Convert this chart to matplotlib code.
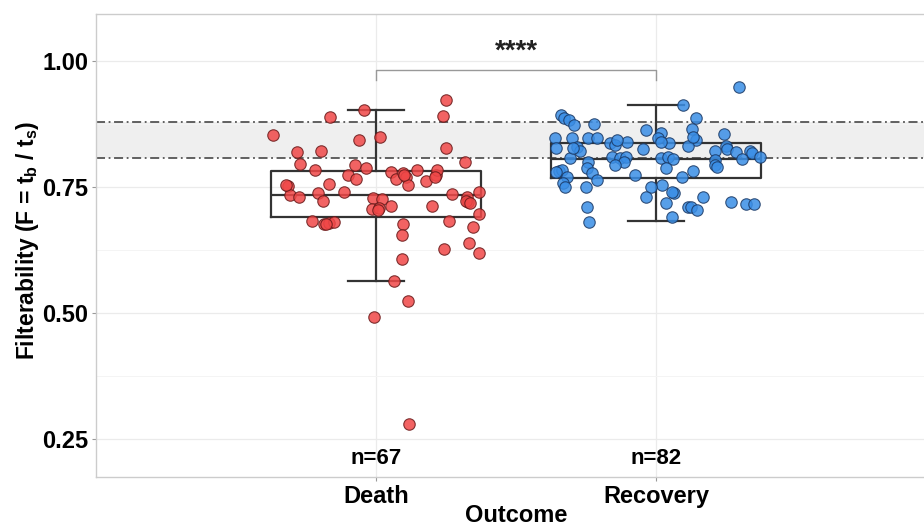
import numpy as np
import matplotlib
matplotlib.use("Agg")
import matplotlib.pyplot as plt

plt.rcParams['font.family'] = ['Liberation Sans', 'DejaVu Sans']
plt.rcParams['mathtext.fontset'] = 'custom'
plt.rcParams['mathtext.rm'] = 'Liberation Sans'
plt.rcParams['mathtext.bf'] = 'Liberation Sans:bold'

# categories
groups = ['Death', 'Recovery']
counts = ['n=67', 'n=82']

# Death: filterability values and jitter offsets
death_y = [0.923, 0.891, 0.903, 0.888, 0.853, 0.850, 0.843, 0.827, 0.820, 0.822,
           0.796, 0.800, 0.794, 0.787, 0.784, 0.774, 0.766, 0.780, 0.766, 0.777,
           0.769, 0.754, 0.784, 0.761, 0.774, 0.784, 0.752, 0.734, 0.731, 0.756,
           0.738, 0.723, 0.741, 0.728, 0.726, 0.706, 0.708, 0.712, 0.712, 0.736,
           0.731, 0.721, 0.741, 0.696, 0.683, 0.676, 0.678, 0.681, 0.683, 0.677,
           0.671, 0.655, 0.628, 0.638, 0.620, 0.607, 0.563, 0.524, 0.493, 0.281,
           0.754, 0.774, 0.723, 0.704, 0.677, 0.770, 0.719]
death_jit = [0.250, 0.238, -0.042, -0.164, -0.369, 0.014, -0.062, 0.250, -0.283, -0.196,
             -0.271, 0.318, -0.075, -0.037, -0.217, -0.101, -0.071, 0.054, 0.071, 0.098,
             0.106, 0.115, 0.148, 0.179, 0.213, 0.217, -0.313, -0.307, -0.274, -0.167,
             -0.208, -0.190, -0.114, -0.012, 0.020, -0.013, 0.012, 0.054, 0.199, 0.273,
             0.324, 0.330, 0.369, 0.367, -0.229, -0.186, -0.167, -0.149, 0.260, 0.095,
             0.348, 0.092, 0.244, 0.333, 0.369, 0.092, 0.064, 0.115, -0.006, 0.119,
             -0.321, 0.101, 0.321, 0.006, -0.179, 0.211, 0.336]

# Recovery
recov_y = [0.949, 0.913, 0.893, 0.886, 0.883, 0.873, 0.875, 0.886, 0.864, 0.863,
           0.857, 0.855, 0.847, 0.847, 0.847, 0.847, 0.843, 0.847, 0.837, 0.831,
           0.840, 0.837, 0.833, 0.827, 0.829, 0.822, 0.825, 0.831, 0.825, 0.821,
           0.820, 0.822, 0.818, 0.810, 0.805, 0.808, 0.810, 0.807, 0.809, 0.800,
           0.794, 0.807, 0.810, 0.806, 0.787, 0.804, 0.794, 0.800, 0.788, 0.782,
           0.784, 0.780, 0.778, 0.782, 0.774, 0.770, 0.769, 0.764, 0.757, 0.749,
           0.750, 0.754, 0.749, 0.739, 0.741, 0.731, 0.731, 0.718, 0.721, 0.716,
           0.716, 0.711, 0.710, 0.711, 0.704, 0.681, 0.691, 0.840, 0.827, 0.843,
           0.790, 0.850]
recov_jit = [0.296, 0.095, -0.340, -0.328, -0.310, -0.293, -0.221, 0.143, 0.128, -0.037,
             0.018, 0.243, -0.361, -0.301, -0.242, -0.212, 0.143, 0.008, 0.048, 0.115,
             -0.103, -0.164, -0.146, -0.357, -0.283, -0.271, -0.048, 0.250, 0.255, 0.211,
             0.286, 0.336, 0.344, 0.371, 0.306, -0.307, -0.158, -0.129, -0.107, -0.114,
             -0.146, 0.017, 0.044, 0.062, 0.036, 0.211, 0.211, -0.242, -0.248, -0.345,
             -0.337, -0.357, -0.230, 0.133, -0.075, 0.092, -0.319, -0.210, -0.331, -0.325,
             -0.250, 0.020, -0.019, 0.064, 0.056, -0.036, 0.167, 0.035, 0.269, 0.321,
             0.351, -0.248, 0.115, 0.124, 0.148, -0.238, 0.056, 0.018, -0.295, -0.140,
             0.217, 0.133]

# box summary (as drawn in the reference)
q1 = [0.690, 0.768]
med = [0.735, 0.806]
q3 = [0.782, 0.837]
whis_lo = [0.563, 0.683]
whis_hi = [0.903, 0.913]

# reference band
band_lo, band_hi = 0.807, 0.878

fig = plt.figure(figsize=(9.24, 5.26), dpi=100)
ax = fig.add_axes([96/924, 49/526, 840/924, 463/526])

ax.set_xlim(0, 3)
ax.set_ylim(0.175, 1.093)

# grid
ax.set_yticks([0.25, 0.50, 0.75, 1.00])
ax.set_yticks([0.375, 0.625, 0.875], minor=True)
ax.set_xticks([1, 2])
ax.grid(which='major', color='#ebebeb', lw=0.9)
ax.grid(which='minor', axis='y', color='#f4f4f4', lw=0.7)
ax.set_axisbelow(True)

# band
ax.axhspan(band_lo, band_hi, color='#efefef', zorder=0.5, lw=0)
for yy in (band_lo, band_hi):
    ax.axhline(yy, color='#555555', lw=1.3, ls=(0, (5, 2, 1, 2)), zorder=1)

# boxes
stats = []
for i in range(2):
    stats.append(dict(med=med[i], q1=q1[i], q3=q3[i], whislo=whis_lo[i],
                      whishi=whis_hi[i], fliers=[]))
lprops = dict(color='#333333', lw=1.6)
ax.bxp(stats, positions=[1, 2], widths=0.75, showfliers=False, capwidths=0.2,
       boxprops=lprops, whiskerprops=lprops, capprops=lprops, medianprops=lprops,
       manage_ticks=False, zorder=2)

# points
ax.scatter(1 + np.array(death_jit), death_y, s=68, color='#f04848', alpha=0.85,
           edgecolor='#6a1a1a', linewidth=0.8, zorder=3)
ax.scatter(2 + np.array(recov_jit), recov_y, s=68, color='#3a8ee6', alpha=0.85,
           edgecolor='#1b3a66', linewidth=0.8, zorder=3)

# n labels
for i, t in enumerate(counts):
    ax.text(i + 1, 0.212, t, ha='center', va='center', fontsize=16, fontweight='bold')

# significance bracket
ax.plot([1, 1, 2, 2], [0.962, 0.982, 0.982, 0.962], color='#999999', lw=1, zorder=2)
ax.text(1.5, 1.018, '****', ha='center', va='center', fontsize=20, fontweight='bold',
        color='#222222')

ax.set_xticklabels(groups, fontsize=17, fontweight='bold')
ax.set_yticklabels(['0.25', '0.50', '0.75', '1.00'], fontsize=17, fontweight='bold')
ax.tick_params(axis='both', which='major', length=3, color='#999999', pad=2.5)
ax.tick_params(axis='y', which='minor', length=0)
ax.set_xlabel('Outcome', fontsize=17, fontweight='bold', va='center')
ax.xaxis.set_label_coords(0.5, (477 - 516) / 463)
ax.set_ylabel(r'Filterability (F = t$_\mathbf{b}$ / t$_\mathbf{s}$)', fontsize=16.5,
              fontweight='bold', va='center')
ax.yaxis.set_label_coords((27 - 96) / 840, (477 - 240) / 463)

for s in ax.spines.values():
    s.set_color('#cccccc')
    s.set_linewidth(1)

fig.savefig('out.png', dpi=100)
